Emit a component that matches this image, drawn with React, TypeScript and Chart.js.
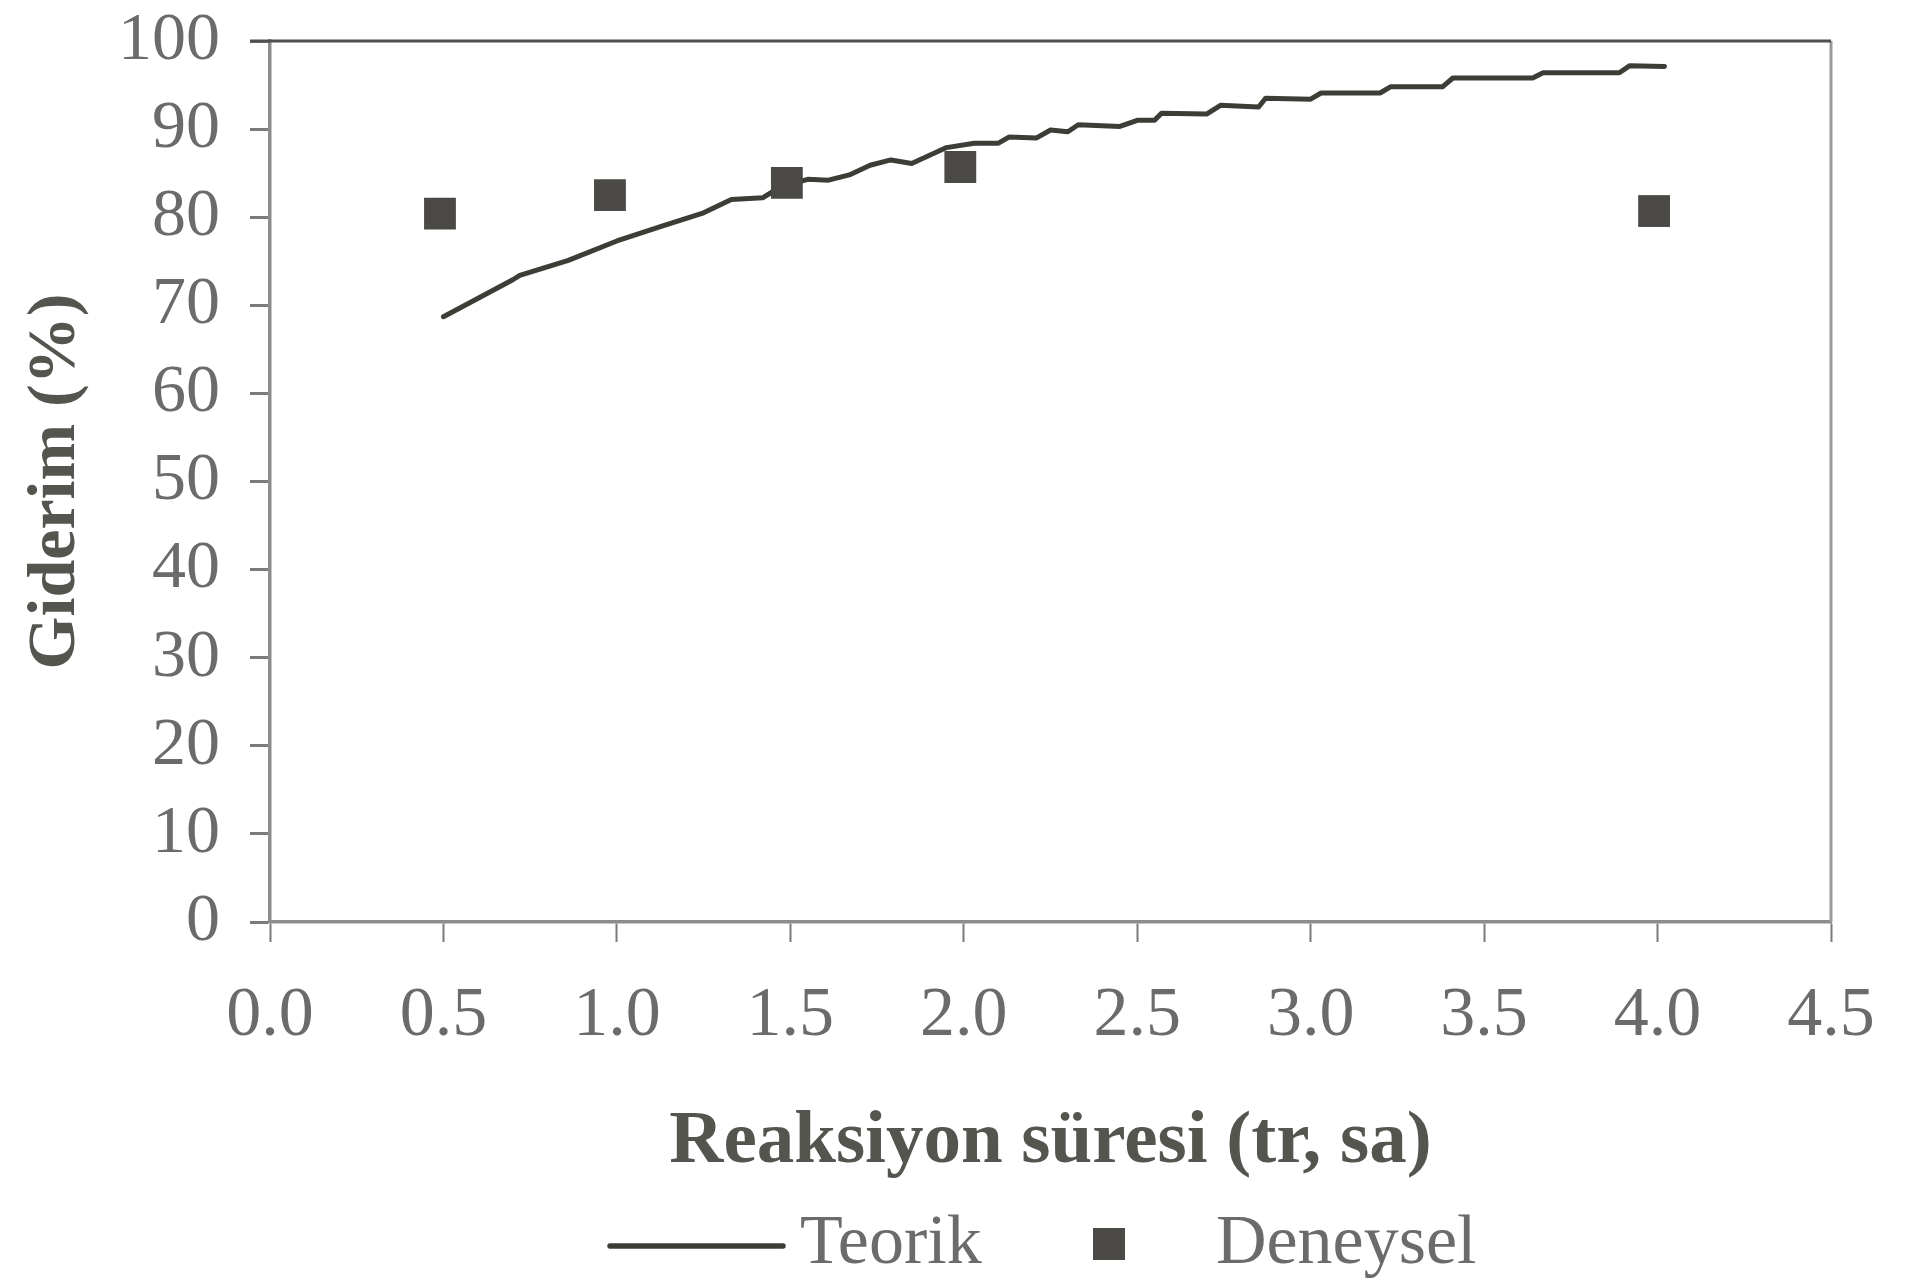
import React, { useEffect, useRef } from "react";
import Chart from "chart.js/auto";

// ---- data ----
const xTicks = [0, 0.5, 1.0, 1.5, 2.0, 2.5, 3.0, 3.5, 4.0, 4.5];
const yTicks = [0, 10, 20, 30, 40, 50, 60, 70, 80, 90, 100];

const teorikX = [0.5, 0.6, 0.7, 0.72, 0.86, 1.0, 1.13, 1.25, 1.33, 1.42, 1.47, 1.55, 1.61, 1.67, 1.73, 1.79, 1.85, 1.95, 2.03, 2.1, 2.13, 2.21, 2.25, 2.3, 2.33, 2.45, 2.5, 2.55, 2.57, 2.7, 2.74, 2.85, 2.87, 3.0, 3.03, 3.2, 3.23, 3.38, 3.41, 3.64, 3.67, 3.89, 3.92, 4.02];
const teorikY = [68.7, 70.8, 72.9, 73.4, 75.1, 77.3, 79.0, 80.5, 82.0, 82.2, 83.4, 84.3, 84.2, 84.8, 85.9, 86.5, 86.1, 87.9, 88.4, 88.4, 89.1, 89.0, 89.9, 89.7, 90.5, 90.3, 91.0, 91.0, 91.8, 91.7, 92.7, 92.5, 93.5, 93.4, 94.1, 94.1, 94.8, 94.8, 95.8, 95.8, 96.4, 96.4, 97.2, 97.1];

const deneyselX = [0.49, 0.98, 1.49, 1.99, 3.99];
const deneyselY = [80.4, 82.5, 83.9, 85.7, 80.7];

const seriesNames = ["Teorik", "Deneysel"];
const xTitle = "Reaksiyon süresi (tr, sa)";
const yTitle = "Giderim (%)";

const SERIF = "'Liberation Serif', 'Times New Roman', serif";
const LINE_COLOR = "#3d3d38";
const MARK_COLOR = "#4a4945";
const TEXT_COLOR = "#6b6b6b";
const TITLE_COLOR = "#55554f";
const AXIS_COLOR = "#8c8c8c";

const framePlugin = {
  id: "frameAndLegend",
  afterDraw(chart: any) {
    const { ctx, chartArea } = chart;
    const { left, right, top, bottom } = chartArea;
    ctx.save();
    // right border
    ctx.strokeStyle = "#9a9a9a";
    ctx.lineWidth = 3;
    ctx.beginPath();
    ctx.moveTo(right, top);
    ctx.lineTo(right, bottom);
    ctx.stroke();
    // top border (dark)
    ctx.strokeStyle = "#4f4f4c";
    ctx.lineWidth = 3;
    ctx.beginPath();
    ctx.moveTo(left - 20, top);
    ctx.lineTo(right, top);
    ctx.stroke();

    // legend
    const ly = 1246;
    ctx.strokeStyle = LINE_COLOR;
    ctx.lineWidth = 5.5;
    ctx.lineCap = "round";
    ctx.beginPath();
    ctx.moveTo(610, ly);
    ctx.lineTo(783, ly);
    ctx.stroke();
    ctx.fillStyle = TEXT_COLOR;
    ctx.font = `70px ${SERIF}`;
    ctx.textBaseline = "alphabetic";
    ctx.textAlign = "left";
    ctx.fillText(seriesNames[0], 800, 1263);
    ctx.fillStyle = MARK_COLOR;
    ctx.fillRect(1093, 1228, 32, 32);
    ctx.fillStyle = TEXT_COLOR;
    ctx.fillText(seriesNames[1], 1216, 1263);
    ctx.restore();
  },
};

export default function App() {
  const ref = useRef<HTMLCanvasElement | null>(null);

  useEffect(() => {
    document.body.style.margin = "0";
    document.body.style.overflow = "hidden";
    document.body.style.background = "#ffffff";
    if (!ref.current) return;
    const chart = new Chart(ref.current, {
      type: "scatter",
      data: {
        datasets: [
          {
            label: seriesNames[0],
            data: teorikX.map((x, i) => ({ x, y: teorikY[i] })),
            showLine: true,
            borderColor: LINE_COLOR,
            backgroundColor: LINE_COLOR,
            borderWidth: 5,
            pointRadius: 0,
            tension: 0,
            borderJoinStyle: "round",
            borderCapStyle: "round",
            order: 2,
          },
          {
            label: seriesNames[1],
            data: deneyselX.map((x, i) => ({ x, y: deneyselY[i] })),
            showLine: false,
            pointStyle: "rect",
            pointRadius: 22.5,
            pointBorderWidth: 0,
            pointBackgroundColor: MARK_COLOR,
            pointBorderColor: MARK_COLOR,
            order: 1,
          },
        ],
      },
      options: {
        animation: false,
        responsive: false,
        devicePixelRatio: 1,
        layout: { padding: { left: 0, top: 41, right: 96, bottom: 98 } },
        plugins: {
          legend: { display: false },
          tooltip: { enabled: false },
        },
        scales: {
          x: {
            type: "linear",
            min: xTicks[0],
            max: xTicks[xTicks.length - 1],
            afterBuildTicks: (scale: any) => {
              scale.ticks = xTicks.map((v) => ({ value: v }));
            },
            afterFit: (scale: any) => {
              scale.height = 266;
            },
            grid: {
              drawOnChartArea: false,
              drawTicks: true,
              tickLength: 20,
              tickColor: "#7a7a7a",
              tickWidth: 2,
            },
            border: { display: true, color: AXIS_COLOR, width: 3.5 },
            ticks: {
              color: TEXT_COLOR,
              font: { family: SERIF, size: 70 },
              padding: 33,
              maxRotation: 0,
              autoSkip: false,
              callback: (v: any) => Number(v).toFixed(1),
            },
            title: {
              display: true,
              text: xTitle,
              color: TITLE_COLOR,
              font: { family: SERIF, size: 75, weight: "bold" },
              padding: { top: 0, bottom: 0 },
            },
          },
          y: {
            type: "linear",
            min: yTicks[0],
            max: yTicks[yTicks.length - 1],
            afterBuildTicks: (scale: any) => {
              scale.ticks = yTicks.map((v) => ({ value: v }));
            },
            afterFit: (scale: any) => {
              scale.width = 270;
              scale.paddingTop = 0;
              scale.paddingBottom = 0;
            },
            grid: {
              drawOnChartArea: false,
              drawTicks: true,
              tickLength: 20,
              tickColor: "#7a7a7a",
              tickWidth: 3,
            },
            border: { display: true, color: AXIS_COLOR, width: 3.5 },
            ticks: {
              color: TEXT_COLOR,
              font: { family: SERIF, size: 68 },
              padding: 30,
              autoSkip: false,
              callback: (v: any) => String(v),
            },
            title: {
              display: true,
              text: yTitle,
              color: TITLE_COLOR,
              font: { family: SERIF, size: 68, weight: "bold" },
              padding: { top: 16, bottom: 0 },
            },
          },
        },
      },
      plugins: [framePlugin],
    });
    return () => chart.destroy();
  }, []);

  return (
    <div style={{ width: 1927, height: 1286, background: "#ffffff" }}>
      <canvas ref={ref} width={1927} height={1286} style={{ display: "block" }} />
    </div>
  );
}
